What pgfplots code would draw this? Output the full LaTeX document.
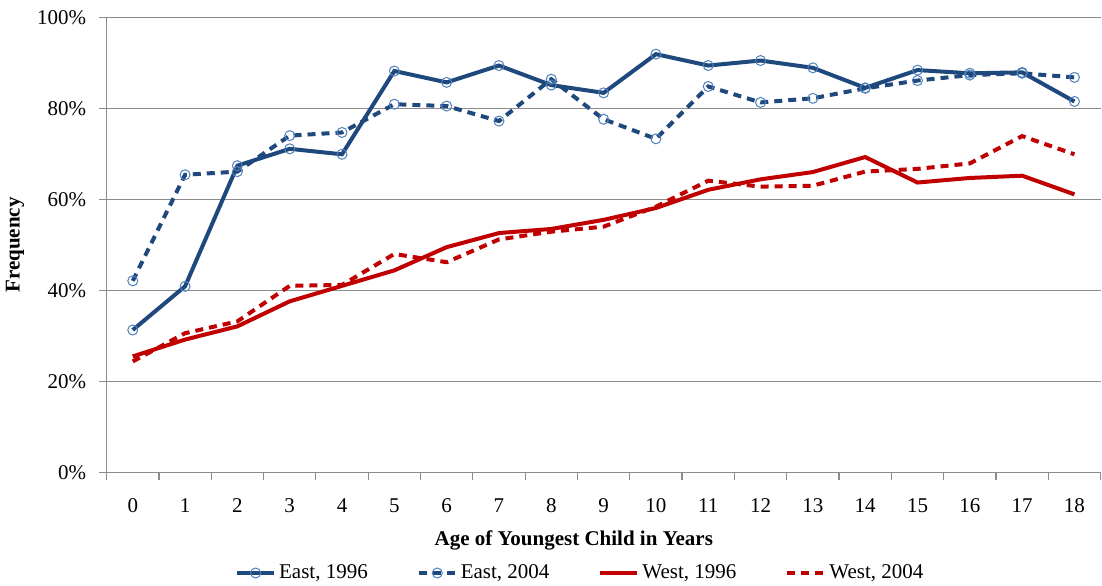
\documentclass[border=0pt]{standalone}
\usepackage{pgfplots}
\pgfplotsset{compat=1.18}
\usepackage{fontspec}
\setmainfont{Liberation Serif}
\definecolor{eastblue}{HTML}{1F497D}
\definecolor{markblue}{HTML}{4F81BD}
\definecolor{westred}{HTML}{C00000}
\definecolor{gridgray}{RGB}{140,140,140}
\begin{document}
\begin{tikzpicture}[font=\fontsize{10.5}{12.6}\selectfont]
\begin{axis}[
  scale only axis,
  width=497pt, height=227.6pt,
  xmin=-0.5, xmax=18.5, ymin=0, ymax=100,
  axis lines*=left,
  axis line style={draw=gridgray, line width=0.6pt},
  ymajorgrids,
  grid style={draw=gridgray, line width=0.6pt},
  tick align=outside,
  major tick length=3.7pt,
  tick style={draw=gridgray, line width=0.6pt},
  ytick={0,20,40,60,80,100},
  yticklabels={0\%,20\%,40\%,60\%,80\%,100\%},
  yticklabel style={xshift=-3pt},
  xtick={-0.5,0.5,...,18.5},
  xticklabels={},
  extra x ticks={0,1,2,3,4,5,6,7,8,9,10,11,12,13,14,15,16,17,18},
  extra x tick labels={0,1,2,3,4,5,6,7,8,9,10,11,12,13,14,15,16,17,18},
  extra x tick style={major tick length=0pt, tick style={draw=none}, xticklabel style={yshift=-9.7pt}},
  xlabel={\bfseries Age of Youngest Child in Years},
  xlabel style={at={(axis description cs:0.47,0)}, anchor=center, yshift=-33.75pt},
  ylabel={\bfseries Frequency},
  ylabel style={at={(axis description cs:-0.0922,0.5)}, anchor=center},
  legend columns=4,
  legend style={at={(axis description cs:0.477,-0.2208)}, anchor=center, draw=none, fill=none,
    /tikz/every even column/.append style={column sep=23pt},
    nodes={inner xsep=1.5pt}},
  legend image code/.code={\draw[mark repeat=2,mark phase=2,#1] plot coordinates {(0pt,0pt) (9.25pt,0pt) (18.5pt,0pt)};},
]
\addplot[eastblue, line width=2pt, mark=o, mark size=2.5pt, mark options={draw=markblue, fill=none, line width=0.5pt, solid}]
coordinates {(0,31.3) (1,40.9) (2,67.4) (3,71.1) (4,69.9) (5,88.2) (6,85.7) (7,89.4) (8,85.1) (9,83.4) (10,91.9) (11,89.4) (12,90.5) (13,88.9) (14,84.5) (15,88.4) (16,87.7) (17,87.9) (18,81.5)};
\addlegendentry{East, 1996}
\addplot[eastblue, line width=2pt, dash pattern=on 4pt off 3pt, mark=o, mark size=2.5pt, mark options={draw=markblue, fill=none, line width=0.5pt, solid}]
coordinates {(0,42.1) (1,65.4) (2,66.1) (3,74.0) (4,74.7) (5,80.9) (6,80.5) (7,77.2) (8,86.4) (9,77.6) (10,73.3) (11,84.8) (12,81.3) (13,82.2) (14,84.4) (15,86.1) (16,87.3) (17,87.7) (18,86.8)};
\addlegendentry{East, 2004}
\addplot[westred, line width=2pt, mark=none]
coordinates {(0,25.5) (1,29.2) (2,32.1) (3,37.6) (4,41.0) (5,44.4) (6,49.5) (7,52.6) (8,53.5) (9,55.5) (10,58.1) (11,62.1) (12,64.4) (13,66.0) (14,69.3) (15,63.7) (16,64.7) (17,65.2) (18,61.1)};
\addlegendentry{West, 1996}
\addplot[westred, line width=2pt, dash pattern=on 4pt off 3pt, mark=none]
coordinates {(0,24.4) (1,30.6) (2,33.2) (3,41.0) (4,41.2) (5,48.0) (6,46.2) (7,51.2) (8,52.9) (9,54.0) (10,58.4) (11,64.1) (12,62.8) (13,63.0) (14,66.1) (15,66.7) (16,67.9) (17,73.9) (18,69.9)};
\addlegendentry{West, 2004}
\end{axis}
\pgfresetboundingbox
\useasboundingbox ([xshift=-53.3pt,yshift=-56.75pt]current axis.south west) rectangle ([xshift=0.7pt,yshift=8.65pt]current axis.north east);
\end{tikzpicture}
\end{document}
